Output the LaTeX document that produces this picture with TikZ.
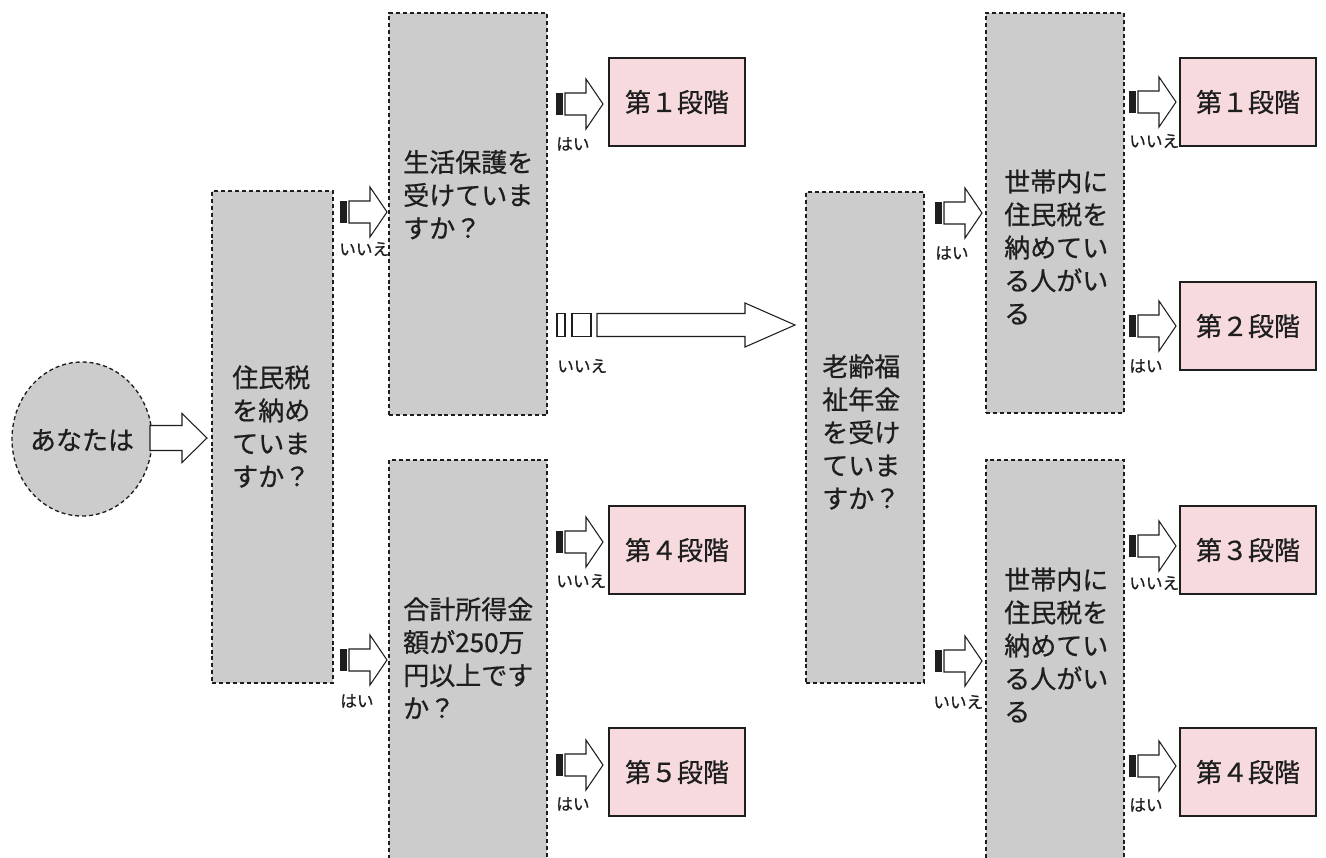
\documentclass[tikz,border=0pt]{standalone}
\usepackage{fontspec}
\newfontfamily\jp[FakeBold=0.7]{Noto Sans CJK JP}
\usetikzlibrary{shapes.geometric}
\definecolor{boxgray}{RGB}{204,204,204}
\definecolor{pinkfill}{RGB}{246,218,222}
\definecolor{ink}{RGB}{30,30,30}
\tikzset{
  graybox/.style={draw=ink, fill=boxgray, line width=1pt, dash pattern=on 3pt off 2.2pt, inner sep=0pt, outer sep=0pt},
  pinkbox/.style={draw=ink, fill=pinkfill, line width=0.8pt, inner sep=0pt, minimum width=102pt, minimum height=66pt, text=ink, font=\jp\fontsize{19.5pt}{24pt}\selectfont},
  qtext/.style={anchor=west, align=left, inner sep=0pt, text=ink, font=\jp\fontsize{19.5pt}{24.75pt}\selectfont},
  lbl/.style={anchor=west, inner sep=0pt, text=ink, font=\jp\fontsize{12.5pt}{14pt}\selectfont},
  blockarr/.pic={
    \fill[ink] (0,-11) rectangle (6.5,11);
    \draw[ink, fill=white, line width=0.8pt] (9,-11) -- (30,-11) -- (30,-25) -- (47,0) -- (30,25) -- (30,11) -- (9,11) -- cycle;
  },
  longarr/.pic={
    \draw[ink, fill=white, line width=0.8pt] (0,-11.5) rectangle (8,11.5);
    \draw[ink, fill=white, line width=0.8pt] (15,-11.5) rectangle (34,11.5);
    \draw[ink, fill=white, line width=0.8pt] (40,-11.5) -- (188,-11.5) -- (188,-22) -- (238,0) -- (188,22) -- (188,11.5) -- (40,11.5) -- cycle;
  }
}
\newcommand\gbox[5]{\node[graybox, minimum width={(#4-#2)*0.75pt}, minimum height={(#5-#3)*0.75pt}] (#1) at ({(#2+#4)/2},{(#3+#5)/2}) {};}
\begin{document}
\begin{tikzpicture}[x=0.75pt,y=-0.75pt]
\useasboundingbox (0,0) rectangle (1326,857);
% start circle
\node[graybox, ellipse, minimum width=105pt, minimum height=115.5pt] (start) at (82,439) {};
\node[qtext, anchor=center] (starttext) at (82,440) {あなたは};
% gray question boxes
\gbox{b1}{212}{191}{333}{683}
\gbox{b2}{389}{13}{547}{415}
\gbox{b3}{389}{460}{547}{865}
\gbox{b4}{806}{192}{924}{683}
\gbox{b5}{986}{13}{1124}{413}
\gbox{b6}{986}{460}{1124}{865}
\node[qtext] (t1) at (232,426.5) {住民税\\を納め\\ていま\\すか？};
\node[qtext] (t2) at (403,194.7) {生活保護を\\受けていま\\すか？};
\node[qtext] (t3) at (403,658) {合計所得金\\額が250万\\円以上です\\か？};
\node[qtext] (t4) at (822,432) {老齢福\\祉年金\\を受け\\ていま\\すか？};
\node[qtext] (t5) at (1004,247) {世帯内に\\住民税を\\納めてい\\る人がい\\る};
\node[qtext] (t6) at (1004,645) {世帯内に\\住民税を\\納めてい\\る人がい\\る};
% result boxes
\node[pinkbox] (p1) at (677,102) {第１段階};
\node[pinkbox] (p4) at (677,550) {第４段階};
\node[pinkbox] (p5) at (677,772) {第５段階};
\node[pinkbox] (q1) at (1248,102) {第１段階};
\node[pinkbox] (q2) at (1248,326) {第２段階};
\node[pinkbox] (q3) at (1248,550) {第３段階};
\node[pinkbox] (q4) at (1248,772) {第４段階};
% arrow from circle
\draw[ink, fill=white, line width=0.8pt] (150,425.5) -- (182,425.5) -- (182,413.5) -- (207,438) -- (182,462.5) -- (182,450.5) -- (150,450.5) -- cycle;
% small block arrows with labels
\pic (a1) at (340,212) {blockarr};
\node[lbl] (l1) at (339,249) {いいえ};
\pic (a2) at (340,660) {blockarr};
\node[lbl] (l2) at (340,701) {はい};
\pic (a3) at (556,104) {blockarr};
\node[lbl] (l3) at (556,144) {はい};
\pic (a4) at (557,325) {longarr};
\node[lbl] (l4) at (557,366) {いいえ};
\pic (a5) at (556,542) {blockarr};
\node[lbl] (l5) at (556,581) {いいえ};
\pic (a6) at (556,765) {blockarr};
\node[lbl] (l6) at (556,804) {はい};
\pic (a7) at (935,213) {blockarr};
\node[lbl] (l7) at (935,253) {はい};
\pic (a8) at (935,661) {blockarr};
\node[lbl] (l8) at (933,702) {いいえ};
\pic (a9) at (1129,102) {blockarr};
\node[lbl] (l9) at (1129,141) {いいえ};
\pic (a10) at (1129,326) {blockarr};
\node[lbl] (l10) at (1129,366) {はい};
\pic (a11) at (1129,546) {blockarr};
\node[lbl] (l11) at (1129,583) {いいえ};
\pic (a12) at (1129,766) {blockarr};
\node[lbl] (l12) at (1129,805) {はい};
\end{tikzpicture}
\end{document}
